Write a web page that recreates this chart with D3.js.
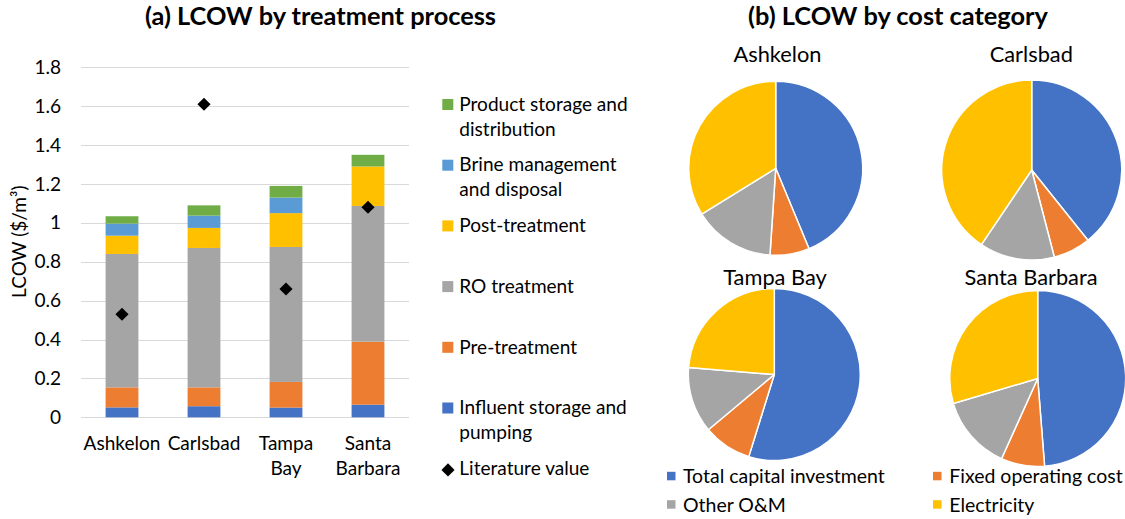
<!DOCTYPE html>
<html>
<head>
<meta charset="utf-8">
<script src="https://cdn.jsdelivr.net/npm/d3@7"></script>
<style>
  html, body { margin: 0; padding: 0; background: #fff; }
  svg { display: block; }
</style>
</head>
<body>
<svg id="chart" width="1125" height="519"></svg>
<script>
// ---------- DATA ----------
const categories = ["Ashkelon", "Carlsbad", "Tampa Bay", "Santa Barbara"];
const categoryLabelLines = [["Ashkelon"], ["Carlsbad"], ["Tampa", "Bay"], ["Santa", "Barbara"]];

const influentStorage = [0.051, 0.057, 0.050, 0.065];
const preTreatment    = [0.103, 0.097, 0.132, 0.324];
const roTreatment     = [0.686, 0.717, 0.694, 0.698];
const postTreatment   = [0.094, 0.103, 0.174, 0.203];
const brineDisposal   = [0.062, 0.063, 0.080, 0.000];
const productStorage  = [0.038, 0.053, 0.060, 0.060];
const literatureValue = [0.53, 1.61, 0.66, 1.08];

const yTickValues = [0, 0.2, 0.4, 0.6, 0.8, 1, 1.2, 1.4, 1.6, 1.8];
const yTickLabels = ["0", "0.2", "0.4", "0.6", "0.8", "1", "1.2", "1.4", "1.6", "1.8"];

const processNames = ["Influent storage and pumping", "Pre-treatment", "RO treatment",
  "Post-treatment", "Brine management and disposal", "Product storage and distribution"];
const processLegendLines = [["Influent storage and", "pumping"], ["Pre-treatment"], ["RO treatment"],
  ["Post-treatment"], ["Brine management", "and disposal"], ["Product storage and", "distribution"]];
const literatureLabel = "Literature value";

// pie shares (%) by cost category
const pieCities = ["Ashkelon", "Carlsbad", "Tampa Bay", "Santa Barbara"];
const capitalInvestment = [43.7, 39.3, 54.8, 48.8];
const fixedOperating    = [7.3, 6.7, 9.1, 8.0];
const otherOM           = [15.1, 13.5, 12.4, 13.7];
const electricity       = [33.8, 40.6, 23.7, 29.6];
const costNames = ["Total capital investment", "Fixed operating cost", "Other O&M", "Electricity"];

// ---------- STYLE ----------
const processColors = ["#4472C4", "#ED7D31", "#A5A5A5", "#FFC000", "#5B9BD5", "#70AD47"];
const costColors = ["#4472C4", "#ED7D31", "#A5A5A5", "#FFC000"];
const FONT = "Lato, 'Open Sans', sans-serif";

const svg = d3.select("#chart");

function fit(text, width, weight) {
  const t = svg.append("text").attr("font-family", FONT).attr("font-size", 100)
    .attr("font-weight", weight || "normal").text(text);
  const w = t.node().getComputedTextLength();
  t.remove();
  return 100 * width / w;
}
const fsTitle = fit("(b) LCOW by cost category", 300, "bold");
const fsAxis = fit("Ashkelon", 77);
const fsPieTitle = fit("Ashkelon", 88);
const fsLegB = fit("Total capital investment", 202);

// ---------- (a) stacked bars ----------
const x = d3.scaleBand().domain(categories).range([81, 409]).paddingInner(0.6).paddingOuter(0.3);
const y = d3.scaleLinear().domain([0, 1.8]).range([417.3, 67.3]);

const series = [influentStorage, preTreatment, roTreatment, postTreatment, brineDisposal, productStorage];
const table = categories.map((c, i) => {
  const row = { category: c };
  processNames.forEach((p, k) => row[p] = series[k][i]);
  return row;
});
const stacked = d3.stack().keys(processNames)(table);

// gridlines
svg.append("g").selectAll("line").data(yTickValues).join("line")
  .attr("x1", 81).attr("x2", 409)
  .attr("y1", d => Math.round(y(d)) + 0.5).attr("y2", d => Math.round(y(d)) + 0.5)
  .attr("stroke", "#d9d9d9").attr("stroke-width", 1);

// y axis labels
const yAxis = d3.axisLeft(y).tickValues(yTickValues)
  .tickFormat((d, i) => yTickLabels[i]).tickSize(0).tickPadding(0);
const yg = svg.append("g").attr("transform", "translate(61,0)").call(yAxis);
yg.select(".domain").remove();
yg.selectAll("text").attr("font-family", FONT).attr("font-size", fsAxis).attr("fill", "#000");

// bars
svg.append("g").selectAll("g").data(stacked).join("g")
  .attr("fill", (d, i) => processColors[i])
  .selectAll("rect").data(d => d).join("rect")
  .attr("x", d => x(d.data.category))
  .attr("width", x.bandwidth())
  .attr("y", d => y(d[1]))
  .attr("height", d => Math.max(0, y(d[0]) - y(d[1])));

// literature diamonds
const diamond = d3.symbol().type(d3.symbolSquare).size(86);
svg.append("g").selectAll("path").data(literatureValue).join("path")
  .attr("d", diamond)
  .attr("transform", (d, i) => `translate(${x(categories[i]) + x.bandwidth() / 2},${y(d)}) rotate(45)`)
  .attr("fill", "#000");

// x labels
const xl = svg.append("g").selectAll("text").data(categoryLabelLines).join("text")
  .attr("font-family", FONT).attr("font-size", fsAxis).attr("text-anchor", "middle").attr("fill", "#000");
xl.each(function (lines, i) {
  d3.select(this).selectAll("tspan").data(lines).join("tspan")
    .attr("x", x(categories[i]) + x.bandwidth() / 2)
    .attr("y", (d, j) => 450 + j * 25)
    .text(d => d);
});

// y title
svg.append("text")
  .attr("transform", "translate(26,241.7) rotate(-90)")
  .attr("text-anchor", "middle").attr("font-family", FONT).attr("font-size", fsAxis).attr("fill", "#000")
  .text("LCOW ($/m³)");

// title a
svg.append("text").attr("x", 320.5).attr("y", 25).attr("text-anchor", "middle")
  .attr("font-family", FONT).attr("font-weight", "bold").attr("font-size", fsTitle).attr("fill", "#000")
  .text("(a) LCOW by treatment process");

// legend a (top to bottom: reverse order of stack)
const legBaseY = 110.7, legStep = 60.7;
const legOrder = [5, 4, 3, 2, 1, 0];
const legA = svg.append("g");
legOrder.forEach((k, r) => {
  const by = legBaseY + r * legStep;
  legA.append("rect").attr("x", 442.3).attr("y", by - 11.7).attr("width", 11).attr("height", 11)
    .attr("fill", processColors[k]);
  const t = legA.append("text").attr("font-family", FONT).attr("font-size", fsAxis).attr("fill", "#000");
  t.selectAll("tspan").data(processLegendLines[k]).join("tspan")
    .attr("x", 459.3).attr("y", (d, j) => by + j * 25).text(d => d);
});
{
  const by = legBaseY + 6 * legStep;
  legA.append("path").attr("d", diamond)
    .attr("transform", `translate(448,${by - 5}) rotate(45)`).attr("fill", "#000");
  legA.append("text").attr("x", 459.3).attr("y", by).attr("font-family", FONT)
    .attr("font-size", fsAxis).attr("fill", "#000").text(literatureLabel);
}

// ---------- (b) pies ----------
svg.append("text").attr("x", 898).attr("y", 25).attr("text-anchor", "middle")
  .attr("font-family", FONT).attr("font-weight", "bold").attr("font-size", fsTitle).attr("fill", "#000")
  .text("(b) LCOW by cost category");

const pieLayout = [
  { cx: 775.7, cy: 168.3, r: 87, tx: 777.5, ty: 61.7 },
  { cx: 1031.7, cy: 170, r: 90, tx: 1031.3, ty: 61.7 },
  { cx: 774.3, cy: 374.5, r: 86, tx: 775, ty: 285 },
  { cx: 1037.7, cy: 378.5, r: 88, tx: 1031, ty: 285 }
];
const costSeries = [capitalInvestment, fixedOperating, otherOM, electricity];
const pie = d3.pie().sort(null).value(d => d.v);

pieCities.forEach((city, i) => {
  const L = pieLayout[i];
  const vals = costNames.map((n, k) => ({ name: n, v: costSeries[k][i], k }));
  const arc = d3.arc().innerRadius(0).outerRadius(L.r);
  const g = svg.append("g").attr("transform", `translate(${L.cx},${L.cy})`);
  g.selectAll("path").data(pie(vals)).join("path")
    .attr("d", arc).attr("fill", d => costColors[d.data.k])
    .attr("stroke", "#fff").attr("stroke-width", 1.5).attr("stroke-linejoin", "round");
  svg.append("text").attr("x", L.tx).attr("y", L.ty).attr("text-anchor", "middle")
    .attr("font-family", FONT).attr("font-size", fsPieTitle).attr("fill", "#000").text(city);
});

// legend b
const legBPos = [
  { sx: 667, tx: 683, by: 483.3 },
  { sx: 933, tx: 949.3, by: 483.3 },
  { sx: 667, tx: 683, by: 511.7 },
  { sx: 933, tx: 949.3, by: 511.7 }
];
const legB = svg.append("g");
costNames.forEach((n, k) => {
  const P = legBPos[k];
  legB.append("rect").attr("x", P.sx).attr("y", P.by - 11.5).attr("width", 8.5).attr("height", 8.5)
    .attr("fill", costColors[k]);
  legB.append("text").attr("x", P.tx).attr("y", P.by).attr("font-family", FONT)
    .attr("font-size", fsLegB).attr("fill", "#000").text(n);
});
</script>
</body>
</html>
